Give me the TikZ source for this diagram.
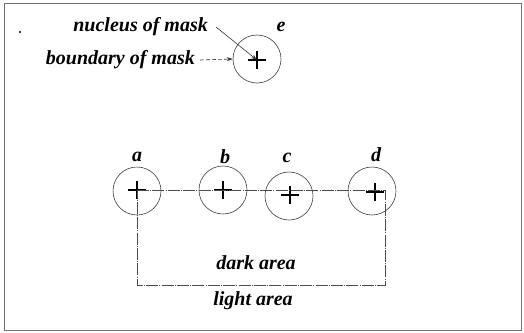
\documentclass[tikz,border=0pt]{standalone}
\usepackage{fontspec}
\setmainfont{Liberation Serif}
\usetikzlibrary{arrows.meta,calc}
\tikzset{
  lbl/.style={inner sep=0pt, font=\fontsize{20}{20}\selectfont\bfseries\itshape},
  mask/.style={circle, draw=black!75, line width=0.6pt, minimum size=48pt, inner sep=0pt},
  crossline/.style={line width=1.7pt, black},
  track/.style={draw=black!70, line width=0.6pt, dash pattern=on 12pt off 1.2pt on 1pt off 1.2pt},
  frame/.style={draw=black!55, line width=0.9pt},
  pointer/.style={black!80, line width=0.6pt, -{Stealth[length=6pt,width=4pt]}}
}
\newcommand{\plusmark}[2]{%
  \draw[crossline] ($(#1)+(-#2,0)$) -- ($(#1)+(#2,0)$);
  \draw[crossline] ($(#1)+(0,-#2)$) -- ($(#1)+(0,#2)$);}
\begin{document}
\begin{tikzpicture}[x=1pt,y=-1pt]
\useasboundingbox (0,0) rectangle (524,332);
\draw[frame] (4,3) rectangle (521,330);
\fill (20,32) circle (1.2pt);

% mask e
\node[mask] (e) at (257,59) {};
\coordinate (ce) at (257,60);
\plusmark{ce}{9}
\node[lbl] (le) at (281,27) {e};
\node[lbl, anchor=east] (nuc) at (208,27) {nucleus of mask};
\node[lbl, anchor=east] (bnd) at (195,60) {boundary of mask};
\draw[pointer] (nuc.east) ++(8,0) coordinate (nucstart) -- (ce);
\draw[pointer, dashed, dash pattern=on 4pt off 2pt] (bnd.east) ++(5,0) -- (e.west);

% masks a-d
\node[mask] (a) at (137,191) {};
\node[mask] (b) at (223,190) {};
\node[mask] (c) at (289,196) {};
\node[mask] (d) at (372,191) {};
\coordinate (ca) at (137,190);
\coordinate (cb) at (223,190);
\coordinate (cc) at (290,195);
\coordinate (cd) at (375,192);
\plusmark{ca}{9}
\plusmark{cb}{9}
\plusmark{cc}{9}
\plusmark{cd}{9}
\node[lbl] (la) at (137,157) {a};
\node[lbl] (lb) at (225,157) {b};
\node[lbl] (lc) at (287,158) {c};
\node[lbl] (ld) at (376,155) {d};

% dark area boundary
\coordinate (dk) at (385,190);
\coordinate (db) at (385,285);
\coordinate (ab) at (137,285);
\draw[track] (ca) -- (dk) -- (db) -- (ab) -- (ca);

\node[lbl] (dark) at (256,263) {dark area};
\node[lbl] (light) at (253,301) {light area};
\end{tikzpicture}
\end{document}
